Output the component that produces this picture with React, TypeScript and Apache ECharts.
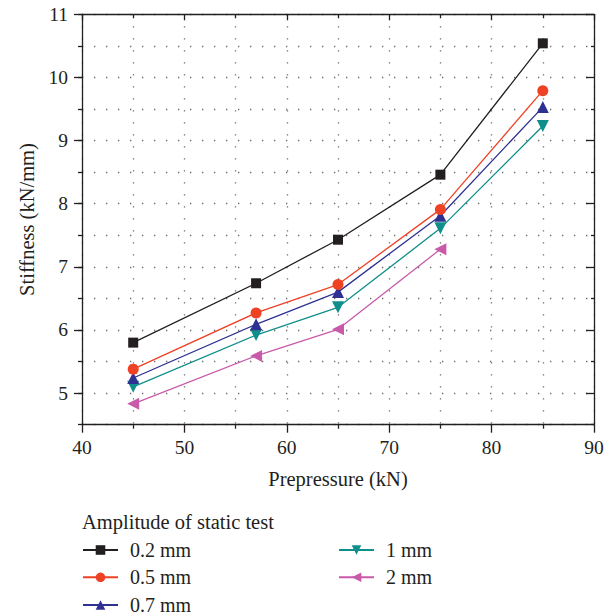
import React, { useEffect, useRef } from "react";
import * as echarts from "echarts";

const prepressure = [45, 57, 65, 75, 85];
const seriesNames = ["0.2 mm", "0.5 mm", "0.7 mm", "1 mm", "2 mm"];
const s02 = [5.8, 6.74, 7.43, 8.46, 10.54];
const s05 = [5.38, 6.27, 6.72, 7.91, 9.79];
const s07 = [5.24, 6.09, 6.6, 7.81, 9.53];
const s1 = [5.1, 5.92, 6.36, 7.61, 9.23];
const s2 = [4.83, 5.59, 6.01, 7.28];
const yTickValues = [5, 6, 7, 8, 9, 10, 11];
const yMinorValues = [4.5, 5.5, 6.5, 7.5, 8.5, 9.5, 10.5];

const colors = ["#231f20", "#ef4123", "#2e3192", "#0f8f8b", "#c95aaa"];
const symbols = ["rect", "circle", "triangle", "triangle", "triangle"];
const rotates = [0, 0, 0, 180, 90];
const sizes = [10, 11, 12, 12, 12];
const allData = [s02, s05, s07, s1, s2];

const FONT = "Liberation Serif";
const TXT = "#231f20";
const dotted = { color: "#6a6a6a", width: 1.3, type: [1.3, 10.7] as any };

const legendPos = [
  [82, 550],
  [82, 577.3],
  [82, 605],
  [338, 550],
  [338, 577.3],
];

export default function App() {
  const ref = useRef<HTMLDivElement>(null);
  useEffect(() => {
    if (!ref.current) return;
    const chart = echarts.init(ref.current, undefined, { renderer: "svg" });
    const grid = { left: 82, right: 20, top: 14.3, bottom: 191.3 };
    const series = allData.map((d, i) => ({
      name: seriesNames[i],
      type: "line",
      xAxisIndex: 0,
      yAxisIndex: 0,
      data: d.map((v, j) => [prepressure[j], v]),
      symbol: symbols[i],
      symbolSize: sizes[i],
      symbolRotate: rotates[i],
      showSymbol: true,
      lineStyle: { color: colors[i], width: 1.3 },
      itemStyle: { color: colors[i] },
      z: 10 - i,
    }));
    const legends = seriesNames.map((n, i) => ({
      data: [n],
      orient: "vertical",
      left: legendPos[i][0],
      top: legendPos[i][1] - 10,
      padding: 0,
      itemWidth: 35,
      itemHeight: 12,
      textStyle: {
        fontFamily: FONT,
        fontSize: 20,
        lineHeight: 20,
        color: TXT,
        padding: [0, 0, 0, 7],
      },
    }));
    chart.setOption({
      animation: false,
      backgroundColor: "#ffffff",
      title: {
        text: "Amplitude of static test",
        left: 82,
        top: 511,
        padding: 0,
        textStyle: {
          fontFamily: FONT,
          fontSize: 20.5,
          lineHeight: 21,
          fontWeight: "normal",
          color: TXT,
        },
      },
      legend: legends,
      grid,
      xAxis: [
        {
          type: "value",
          min: 40,
          max: 90,
          interval: 10,
          position: "bottom",
          name: "Prepressure (kN)",
          nameLocation: "middle",
          nameGap: 44,
          nameTextStyle: { fontFamily: FONT, fontSize: 20.5, color: TXT },
          axisLine: { show: true, onZero: false, lineStyle: { color: TXT, width: 1.3 } },
          axisTick: { show: true, inside: false, length: 8, lineStyle: { color: TXT, width: 1.3 } },
          minorTick: { show: true, splitNumber: 2, length: 4, lineStyle: { color: TXT, width: 1.3 } },
          axisLabel: { fontFamily: FONT, fontSize: 19.5, color: TXT, margin: 13 },
          splitLine: { show: true, lineStyle: dotted },
          minorSplitLine: { show: true, lineStyle: dotted },
        },
        {
          type: "value",
          min: 40,
          max: 90,
          interval: 10,
          position: "top",
          axisLine: { show: true, onZero: false, lineStyle: { color: TXT, width: 1.3 } },
          axisTick: { show: true, inside: true, length: 6, lineStyle: { color: TXT, width: 1.3 } },
          minorTick: { show: true, splitNumber: 2, length: 4, lineStyle: { color: TXT, width: 1.3 } },
          axisLabel: { show: false },
          splitLine: { show: false },
        },
      ],
      yAxis: [
        {
          type: "value",
          min: 4.5,
          max: 11,
          interval: 0.5,
          position: "left",
          axisLine: { show: true, onZero: false, lineStyle: { color: TXT, width: 1.3 } },
          axisTick: { show: true, inside: false, length: 4, lineStyle: { color: TXT, width: 1.3 } },
          axisLabel: { show: false },
          splitLine: { show: true, lineStyle: dotted },
        },
        {
          type: "value",
          min: 4.5,
          max: 11,
          position: "left",
          name: "Stiffness (kN/mm)",
          nameLocation: "middle",
          nameGap: 44,
          nameTextStyle: { fontFamily: FONT, fontSize: 20.5, color: TXT },
          axisLine: { show: false },
          axisTick: {
            show: true,
            inside: false,
            length: 8,
            customValues: yTickValues,
            lineStyle: { color: TXT, width: 1.3 },
          },
          axisLabel: {
            show: true,
            customValues: yTickValues,
            fontFamily: FONT,
            fontSize: 19.5,
            color: TXT,
            margin: 14,
          },
          splitLine: { show: false },
        },
        {
          type: "value",
          min: 4.5,
          max: 11,
          position: "right",
          axisLine: { show: true, onZero: false, lineStyle: { color: TXT, width: 1.3 } },
          axisTick: {
            show: true,
            inside: true,
            length: 8,
            customValues: yTickValues,
            lineStyle: { color: TXT, width: 1.3 },
          },
          axisLabel: { show: false },
          splitLine: { show: false },
        },
        {
          type: "value",
          min: 4.5,
          max: 11,
          position: "right",
          axisLine: { show: false },
          axisTick: {
            show: true,
            inside: true,
            length: 3,
            customValues: yMinorValues,
            lineStyle: { color: TXT, width: 1.3 },
          },
          axisLabel: { show: false },
          splitLine: { show: false },
        },
      ],
      series,
    });
    return () => chart.dispose();
  }, []);
  return <div ref={ref} style={{ width: 614, height: 616, position: "absolute", left: 0, top: 0 }} />;
}
